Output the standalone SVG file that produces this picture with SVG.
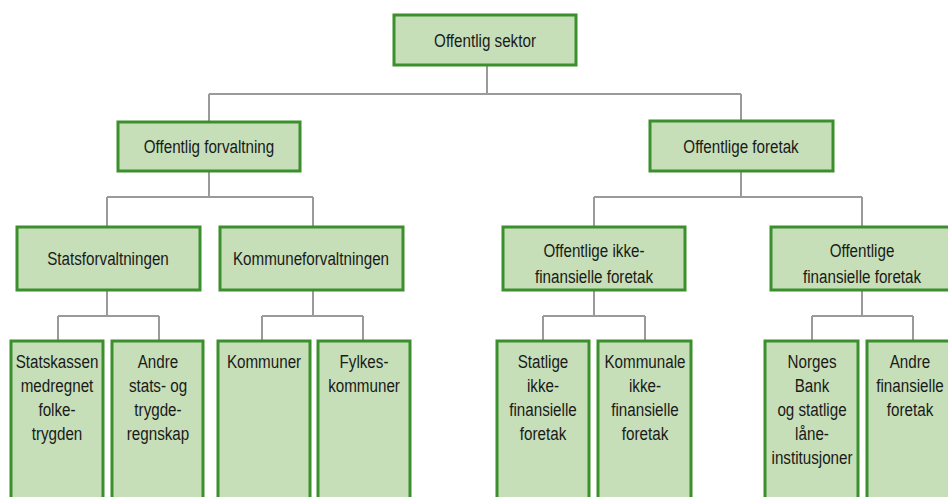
<svg xmlns="http://www.w3.org/2000/svg" width="948" height="497" viewBox="0 0 948 497">
<style>
.box{fill:#c6dfb8;stroke:#3b8f2c;stroke-width:3}
.c{fill:none;stroke:#9a9a9a;stroke-width:2}
text{font-family:"Liberation Sans",Arial,sans-serif;font-size:19px;fill:#1a1a1a;text-anchor:middle;transform-box:fill-box;transform-origin:center;transform:scaleX(0.8)}
</style>
<rect width="948" height="497" fill="#ffffff"/>
<g id="connectors">
<path class="c" d="M487 65V94M209 94H741M209 94V122M741 94V121"/>
<path class="c" d="M209 171V197M107 197H313M107 197V227M313 197V227"/>
<path class="c" d="M741 171V197M594 197H862M594 197V227M862 197V227"/>
<path class="c" d="M107 290V316M58 316H159M58 316V341M159 316V341"/>
<path class="c" d="M313 290V316M262 316H363M262 316V341M363 316V341"/>
<path class="c" d="M594 290V316M543 316H645M543 316V341M645 316V341"/>
<path class="c" d="M862 290V316M812 316H913M812 316V341M913 316V341"/>
</g>
<g id="n-sektor"><rect class="box" x="394" y="15" width="182" height="50"/><text x="485" y="47">Offentlig sektor</text></g>
<g id="n-forvaltning"><rect class="box" x="118" y="122" width="182" height="49"/><text x="209" y="153">Offentlig forvaltning</text></g>
<g id="n-foretak"><rect class="box" x="650" y="121" width="183" height="50"/><text x="741" y="153">Offentlige foretak</text></g>
<g id="n-stats"><rect class="box" x="17" y="227" width="183" height="63"/><text x="108" y="265">Statsforvaltningen</text></g>
<g id="n-kommune"><rect class="box" x="220" y="227" width="183" height="63"/><text x="311" y="265">Kommuneforvaltningen</text></g>
<g id="n-ikkefin"><rect class="box" x="503" y="227" width="182" height="63"/><text x="594" y="257">Offentlige ikke-</text><text x="594" y="283">finansielle foretak</text></g>
<g id="n-fin"><rect class="box" x="771" y="227" width="183" height="63"/><text x="862" y="257">Offentlige</text><text x="862" y="283">finansielle foretak</text></g>
<g id="n-statskassen"><rect class="box" x="11" y="341" width="92" height="170"/><text x="57" y="368">Statskassen</text><text x="57" y="392">medregnet</text><text x="57" y="416">folke-</text><text x="57" y="440">trygden</text></g>
<g id="n-andre-stats"><rect class="box" x="112" y="341" width="91" height="170"/><text x="158" y="368">Andre</text><text x="158" y="392">stats- og</text><text x="158" y="416">trygde-</text><text x="158" y="440">regnskap</text></g>
<g id="n-kommuner"><rect class="box" x="218" y="341" width="92" height="170"/><text x="264" y="368">Kommuner</text></g>
<g id="n-fylkes"><rect class="box" x="318" y="341" width="92" height="170"/><text x="364" y="368">Fylkes-</text><text x="364" y="392">kommuner</text></g>
<g id="n-statlige"><rect class="box" x="497" y="341" width="92" height="170"/><text x="543" y="368">Statlige</text><text x="543" y="392">ikke-</text><text x="543" y="416">finansielle</text><text x="543" y="440">foretak</text></g>
<g id="n-kommunale"><rect class="box" x="598" y="341" width="93" height="170"/><text x="645" y="368">Kommunale</text><text x="645" y="392">ikke-</text><text x="645" y="416">finansielle</text><text x="645" y="440">foretak</text></g>
<g id="n-norges"><rect class="box" x="765" y="341" width="93" height="170"/><text x="812" y="368">Norges</text><text x="812" y="392">Bank</text><text x="812" y="416">og statlige</text><text x="812" y="440">låne-</text><text x="812" y="464">institusjoner</text></g>
<g id="n-andre-fin"><rect class="box" x="867" y="341" width="92" height="170"/><text x="910" y="368">Andre</text><text x="910" y="392">finansielle</text><text x="910" y="416">foretak</text></g>
</svg>
